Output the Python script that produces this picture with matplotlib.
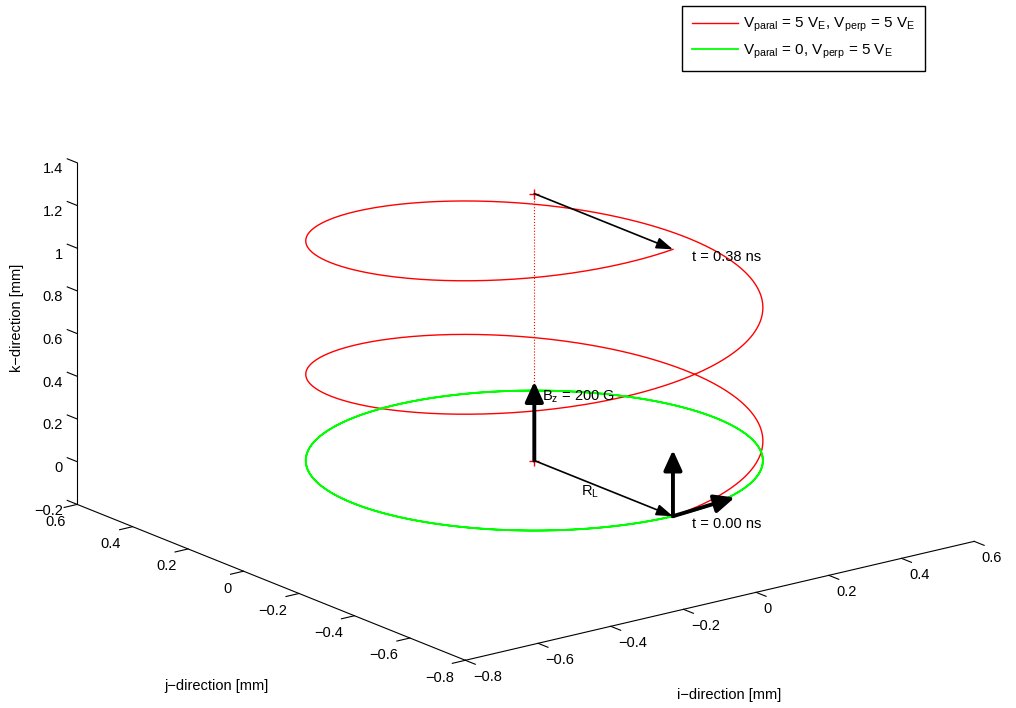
import matplotlib
matplotlib.use('Agg')
import matplotlib.pyplot as plt
import numpy as np
from matplotlib.patches import FancyArrowPatch
from matplotlib.ticker import FuncFormatter
from mpl_toolkits.mplot3d import proj3d

plt.rcParams['font.family'] = ['Liberation Sans', 'DejaVu Sans']
plt.rcParams['mathtext.fontset'] = 'custom'
plt.rcParams['mathtext.rm'] = 'Liberation Sans'
plt.rcParams['mathtext.it'] = 'Liberation Sans:italic'
plt.rcParams['font.size'] = 10.5

# gyration parameters [mm]
r_larmor = 0.5
n_turns = 2
pitch = 0.625          # advance along k per turn, V_paral = 5 V_E
t_end = 0.38           # ns

# arrows: (start, end) in [mm]
r_arrow_start = [(0, 0, 0), (0, 0, 1.25)]
r_arrow_end = [(0, -0.5, 0), (0, -0.5, 1.25)]
b_arrow = [(0, 0, 0), (0, 0, 0.37)]
v_perp_arrow = [(0, -0.5, 0), (0.17, -0.5, 0.02)]
v_par_arrow = [(0, -0.5, 0), (0, -0.5, 0.31)]

ticks_ij = [-0.8, -0.6, -0.4, -0.2, 0, 0.2, 0.4, 0.6]
ticks_k = [-0.2, 0, 0.2, 0.4, 0.6, 0.8, 1, 1.2, 1.4]


class Arrow3D(FancyArrowPatch):
    def __init__(self, p0, p1, **kw):
        super().__init__((0, 0), (0, 0), **kw)
        self._verts3d = list(zip(p0, p1))

    def do_3d_projection(self, renderer=None):
        xs, ys, zs = proj3d.proj_transform(*self._verts3d, self.axes.M)
        self.set_positions((xs[0], ys[0]), (xs[1], ys[1]))
        return np.min(zs)


phi = np.linspace(0, 2 * np.pi * n_turns, 800)
hx = r_larmor * np.sin(phi)
hy = -r_larmor * np.cos(phi)
hz = pitch * phi / (2 * np.pi)
cz = np.zeros_like(phi)

fig = plt.figure(figsize=(10.16, 7.08), dpi=100)
ax = fig.add_axes([0.008, -0.0108, 1.0, 1.0], projection='3d', proj_type='ortho')
ax.computed_zorder = False
ax.view_init(elev=17.84, azim=-127.34)
ax.set_box_aspect((1.4, 1.4, 0.785), zoom=1.335)

l1, = ax.plot(hx, hy, hz, color='red', lw=1.0, zorder=2)
l2, = ax.plot(hx, hy, cz, color=(0, 1, 0), lw=1.3, zorder=2)
ax.plot([0, 0], [0, 0], [0, pitch * n_turns], ':', color='red', lw=0.8, zorder=1)
ax.plot([0, 0], [0, 0], [0, pitch * n_turns], '+', color='red', ms=7, mew=1, zorder=1)

for p0, p1 in zip(r_arrow_start, r_arrow_end):
    ax.add_artist(Arrow3D(p0, p1, arrowstyle='-|>,head_length=0.5,head_width=0.17',
                          mutation_scale=20, lw=1.2, color='black',
                          shrinkA=0, shrinkB=0, zorder=3))
for p0, p1 in [b_arrow, v_perp_arrow, v_par_arrow]:
    ax.add_artist(Arrow3D(p0, p1, arrowstyle='-|>,head_length=0.55,head_width=0.25',
                          mutation_scale=22, lw=2.8, color='black',
                          shrinkA=0, shrinkB=0, zorder=3))

ax.text(0, -0.57, 1.25, 't = %.2f ns' % t_end, ha='left', va='center', zorder=4)
ax.text(0, -0.57, 0, 't = 0.00 ns', ha='left', va='center', zorder=4)
ax.text(0.014, -0.011, 0.30, r'B$_\mathrm{z}$ = 200 G', ha='left', va='center', zorder=4)
ax.text(-0.054, -0.238, 0, r'R$_\mathrm{L}$', ha='left', va='center', zorder=4)

ax.set_xlim(-0.8, 0.6)
ax.set_ylim(-0.8, 0.6)
ax.set_zlim(-0.2, 1.4)
ax.set_xticks(ticks_ij)
ax.set_yticks(ticks_ij)
ax.set_zticks(ticks_k)

# k ticks point along j, like the other two axes point away from the box
ax.zaxis._get_tickdir = lambda position=None: 1

fmt = FuncFormatter(lambda v, p: ('%g' % v).replace('-', '\u2212'))
axis_style = [(ax.xaxis, -2.8, 'left', 0.32, 0.0),
              (ax.yaxis, -2.0, 'right', 0.32, 0.0),
              (ax.zaxis, -3.7, 'right', 0.0, 0.32)]
for axis, pad, ha, tin, tout in axis_style:
    axis.set_major_formatter(fmt)
    axis.set_tick_params(pad=pad)
    for lab in axis.get_ticklabels():
        lab.set_horizontalalignment(ha)
    axis.pane.fill = False
    axis.pane.set_edgecolor('none')
    axis.line.set_color('black')
    axis.line.set_linewidth(0.8)
    axis.label.set_visible(False)
    axis.offsetText.set_visible(False)
    axis._axinfo['tick']['inward_factor'] = tin
    axis._axinfo['tick']['outward_factor'] = tout
    axis._axinfo['tick']['linewidth'] = {True: 0.8, False: 0.5}
ax.grid(False)

fig.text(0.7175, 0.018, 'i\u2212direction [mm]', ha='center', va='center')
fig.text(0.213, 0.031, 'j\u2212direction [mm]', ha='center', va='center')
fig.text(0.017, 0.551, 'k\u2212direction [mm]', ha='center', va='center', rotation=90)

fig.legend([l1, l2],
           [r'V$_{\mathrm{paral}}$ = 5 V$_\mathrm{E}$, V$_{\mathrm{perp}}$ = 5 V$_\mathrm{E}$',
            r'V$_{\mathrm{paral}}$ = 0, V$_{\mathrm{perp}}$ = 5 V$_\mathrm{E}$'],
           loc='upper right', bbox_to_anchor=(0.9104, 0.9915), borderaxespad=0,
           fancybox=False, edgecolor='black', framealpha=1, handlelength=3.0,
           handletextpad=0.35, labelspacing=0.55, borderpad=0.65, fontsize=11)

fig.savefig('out.png', dpi=100)
